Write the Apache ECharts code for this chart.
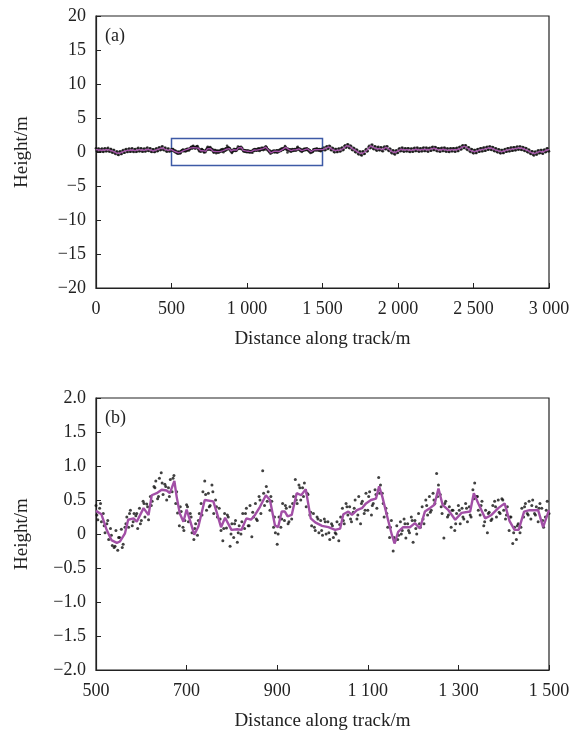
<!DOCTYPE html>
<html>
<head>
<meta charset="utf-8">
<script src="https://cdn.jsdelivr.net/npm/echarts@6/dist/echarts.min.js"></script>
<style>html,body{margin:0;padding:0;background:#fff;}#c{width:574px;height:741px;}</style>
</head>
<body>
<div id="c"></div>
<script>
// Panel (a) x ticks / panel (b) x ticks
const xTicksA = [0, 500, 1000, 1500, 2000, 2500, 3000];
const xTicksB = [500, 700, 900, 1100, 1300, 1500];

// Panel (a) fitted profile, left part: x = 0..480 step 20 m
const lineALeftY = [0.35,0.30,0.25,0.30,0.35,0.20,0.05,-0.20,-0.15,0.05,0.20,0.25,0.30,0.20,0.35,0.30,0.25,0.40,0.30,0.15,0.30,0.45,0.60,0.35,0.25];
// Panel (a) fitted profile, right part: x = 1520..3000 step 20 m
const lineARightY = [0.50,0.75,0.45,0.20,0.25,0.30,0.55,0.95,0.80,0.45,0.20,-0.10,-0.25,0.00,0.40,0.90,0.65,0.45,0.50,0.35,0.70,0.40,0.05,-0.10,0.15,0.40,0.30,0.35,0.25,0.30,0.40,0.30,0.35,0.40,0.30,0.45,0.55,0.35,0.30,0.40,0.30,0.25,0.35,0.30,0.40,0.65,0.85,0.55,0.25,0.05,0.10,0.30,0.35,0.45,0.60,0.55,0.35,0.20,0.05,0.10,0.30,0.35,0.45,0.50,0.60,0.55,0.40,0.20,-0.05,-0.25,-0.10,0.10,0.00,0.25,0.35];

// Panel (b) fitted profile vertices (distance m, height m)
const lineBX = [500,512,523,534,546,553,564,571,583,590,605,616,623,634,645,656,663,673,678,685,693,700,707,717,726,740,759,766,776,785,799,812,821,832,842,851,862,875,884,895,902,910,917,923,932,943,953,963,974,984,999,1013,1028,1039,1046,1057,1065,1076,1087,1096,1107,1118,1125,1132,1142,1153,1159,1167,1178,1193,1204,1215,1226,1237,1247,1256,1265,1278,1293,1307,1326,1334,1344,1359,1373,1388,1402,1413,1424,1433,1445,1457,1476,1487,1500];
const lineBY = [0.34,0.29,0.07,-0.09,-0.13,-0.11,0.01,0.21,0.23,0.18,0.38,0.28,0.57,0.60,0.65,0.64,0.60,0.78,0.55,0.30,0.18,0.36,0.21,-0.01,0.11,0.50,0.48,0.33,0.10,0.24,0.06,0.07,0.06,0.23,0.21,0.28,0.40,0.57,0.50,0.13,0.10,0.33,0.33,0.26,0.28,0.60,0.57,0.66,0.23,0.17,0.12,0.10,0.06,0.08,0.29,0.33,0.28,0.35,0.38,0.45,0.50,0.52,0.70,0.55,0.28,-0.01,-0.14,0.03,0.10,0.10,0.16,0.08,0.33,0.38,0.43,0.67,0.43,0.35,0.21,0.31,0.33,0.60,0.45,0.23,0.28,0.38,0.45,0.19,0.06,0.06,0.33,0.35,0.35,0.10,0.35];

// Laser points, panel (b) range, first pass: x = 500 + 4*i m
const dotsBY = [
0.42,0.21,0.38,0.18,0.30,0.02,0.15,-0.08,0.08,-0.17,
-0.20,0.05,-0.24,-0.05,0.07,-0.15,0.10,0.25,0.10,0.35,
0.12,0.30,0.27,0.08,0.38,0.20,0.48,0.25,0.44,0.21,
0.55,0.48,0.70,0.78,0.52,0.82,0.90,0.58,0.73,0.50,
0.68,0.80,0.62,0.86,0.45,0.31,0.12,0.33,0.10,0.20,
0.43,0.18,0.30,0.02,-0.08,0.15,-0.02,0.30,0.45,0.62,
0.78,0.35,0.60,0.42,0.72,0.30,0.50,0.25,0.38,0.05,
-0.10,0.30,0.09,0.25,-0.18,0.15,-0.05,0.20,-0.12,0.12,
0.00,0.30,0.08,0.38,0.12,0.42,-0.04,0.25,0.45,0.20,
0.55,0.30,0.93,0.42,0.70,0.62,0.35,0.48,0.10,0.02,
-0.15,0.25,0.10,0.45,0.20,0.38,0.15,0.40,0.22,0.55,
0.80,0.45,0.72,0.50,0.68,0.75,0.40,0.58,0.28,0.12,
0.30,0.05,0.25,0.02,0.20,-0.02,0.22,0.00,0.18,-0.08,
0.15,-0.05,0.02,0.18,-0.10,0.25,0.38,0.15,0.45,0.28,
0.40,0.18,0.32,0.50,0.22,0.55,0.15,0.48,0.30,0.60,
0.35,0.62,0.28,0.45,0.65,0.38,0.83,0.72,0.60,0.25,
0.38,0.10,-0.05,0.20,-0.25,-0.10,0.12,-0.02,0.18,0.05,
0.22,-0.06,0.15,0.02,0.25,-0.12,0.20,0.00,0.30,0.10,
0.40,0.15,0.50,0.28,0.55,0.35,0.60,0.45,0.89,0.72,
0.58,0.30,-0.06,0.48,0.25,0.40,0.10,0.35,0.05,0.30,
0.42,0.15,0.38,0.22,0.45,0.18,0.40,0.25,0.65,0.75,
0.55,0.35,0.28,0.48,0.12,0.35,0.02,0.32,0.20,0.42,
0.48,0.25,0.50,0.30,0.52,0.35,0.22,0.40,0.05,0.25,
-0.14,0.10,-0.08,0.15,0.02,0.38,0.25,0.45,0.30,0.48,
0.22,0.50,0.30,0.40,0.18,0.45,0.38,0.10,0.25,0.48,
0.30];
// Laser points, panel (b) range, second pass: x = 502 + 8*i m
const dotsB2Y = [
0.28,0.45,0.12,0.20,-0.02,-0.18,-0.05,-0.20,0.15,0.30,
0.18,0.30,0.15,0.45,0.40,0.42,0.68,0.55,0.75,0.70,
0.55,0.82,0.62,0.40,0.05,0.40,0.25,0.08,0.20,0.28,
0.58,0.40,0.62,0.40,0.22,0.08,0.28,0.00,0.15,0.02,
0.18,0.30,0.12,0.32,0.22,0.50,0.60,0.48,0.55,0.25,
0.00,0.22,0.42,0.18,0.45,0.50,0.68,0.55,0.60,0.32,
0.10,0.22,0.05,0.18,0.02,0.12,0.00,0.14,0.20,0.40,
0.22,0.38,0.28,0.45,0.35,0.55,0.42,0.58,0.60,0.45,
0.30,0.10,-0.05,-0.08,0.00,0.15,0.05,0.20,0.08,0.15,
0.22,0.42,0.32,0.50,0.55,0.40,0.45,0.28,0.35,0.15,
0.35,0.25,0.38,0.28,0.52,0.55,0.42,0.18,0.30,0.22,
0.40,0.32,0.50,0.28,0.25,0.02,0.12,0.10,0.40,0.28,
0.42,0.28,0.38,0.20,0.35];

// Laser points, panel (a) outside the zoom window
// first pass: x = 10*i and x = 1510 + 10*i m
const dotsALeftY = [0.55,0.10,0.48,0.05,0.50,0.02,0.55,0.12,0.60,0.05,0.45,-0.10,0.30,-0.30,0.05,-0.45,0.10,-0.30,0.30,-0.10,0.45,0.00,0.50,0.05,0.55,0.00,0.45,0.05,0.60,0.10,0.55,0.05,0.50,0.10,0.65,0.15,0.55,0.00,0.40,0.00,0.55,0.15,0.70,0.30,0.85,0.25,0.60,0.05,0.50,0.10];
const dotsARightY = [
0.65,0.30,0.85,0.55,0.85,0.25,0.55,-0.05,0.45,0.00,
0.50,0.10,0.65,0.35,1.00,0.75,1.10,0.55,0.85,0.25,
0.55,-0.05,0.30,-0.35,0.05,-0.50,0.10,-0.25,0.45,0.15,
0.90,0.65,1.05,0.40,0.80,0.20,0.75,0.25,0.65,0.10,
0.80,0.45,0.80,0.15,0.45,-0.20,0.20,-0.35,0.25,-0.10,
0.55,0.15,0.60,0.05,0.55,0.10,0.55,0.00,0.50,0.05,
0.60,0.15,0.60,0.05,0.55,0.10,0.65,0.15,0.60,0.05,
0.60,0.20,0.75,0.30,0.70,0.10,0.55,0.05,0.60,0.15,
0.60,0.05,0.50,0.00,0.55,0.10,0.55,0.05,0.60,0.15,
0.75,0.40,1.00,0.60,0.95,0.30,0.65,0.00,0.40,-0.20,
0.30,-0.15,0.45,0.05,0.55,0.10,0.65,0.20,0.75,0.35,
0.80,0.30,0.70,0.10,0.50,-0.05,0.35,-0.20,0.30,-0.15,
0.45,0.05,0.55,0.10,0.65,0.20,0.70,0.25,0.80,0.35,
0.80,0.30,0.70,0.15,0.55,-0.05,0.30,-0.30,0.10,-0.50,
0.05,-0.35,0.25,-0.15,0.30,-0.25,0.35,0.00,0.55,0.10];
// second pass: x = 5 + 10*i and x = 1515 + 10*i m
const dotsALeft2Y = [0.15,0.50,0.10,0.45,0.05,0.48,0.12,0.52,0.10,0.42,-0.02,0.30,-0.20,0.05,-0.40,0.02,-0.30,0.18,-0.10,0.35,0.02,0.45,0.05,0.48,0.08,0.40,0.02,0.52,0.12,0.50,0.08,0.45,0.08,0.55,0.18,0.52,0.05,0.38,0.00,0.45,0.12,0.60,0.28,0.75,0.35,0.60,0.12,0.48,0.08];
const dotsARight2Y = [
0.25,0.78,0.45,0.90,0.30,0.60,0.05,0.42,0.00,0.48,
0.08,0.58,0.25,0.88,0.62,1.12,0.62,0.95,0.32,0.60,
0.05,0.35,-0.25,0.08,-0.45,0.05,-0.28,0.32,0.08,0.75,
0.55,1.05,0.50,0.82,0.28,0.68,0.28,0.68,0.15,0.66,
0.40,0.85,0.25,0.52,-0.08,0.25,-0.28,0.18,-0.15,0.45,
0.12,0.60,0.10,0.52,0.12,0.55,0.05,0.48,0.06,0.55,
0.15,0.60,0.10,0.52,0.12,0.58,0.16,0.60,0.10,0.55,
0.20,0.70,0.30,0.72,0.18,0.56,0.08,0.55,0.15,0.60,
0.10,0.50,0.04,0.50,0.10,0.56,0.08,0.55,0.16,0.68,
0.36,0.92,0.58,1.00,0.40,0.70,0.10,0.42,-0.12,0.28,
-0.13,0.38,0.03,0.53,0.12,0.60,0.20,0.70,0.34,0.81,
0.34,0.72,0.18,0.53,0.02,0.38,-0.14,0.28,-0.13,0.37,
0.03,0.53,0.12,0.60,0.20,0.68,0.27,0.74,0.36,0.81,
0.34,0.74,0.22,0.57,0.03,0.36,-0.20,0.12,-0.42,0.00,
-0.36,0.17,-0.17,0.30,-0.20,0.28,-0.04,0.50,0.10];

const lineB = lineBX.map((x, i) => [x, lineBY[i]]);
const lineA = lineALeftY.map((y, i) => [i * 20, y])
  .concat(lineB)
  .concat(lineARightY.map((y, i) => [1520 + i * 20, y]));
const dotsB = dotsBY.map((y, i) => [500 + 4 * i, y])
  .concat(dotsB2Y.map((y, i) => [502 + 8 * i, y]));
const dotsA = dotsALeftY.map((y, i) => [i * 10, y])
  .concat(dotsALeft2Y.map((y, i) => [5 + i * 10, y]))
  .concat(dotsB)
  .concat(dotsARightY.map((y, i) => [1510 + i * 10, y]))
  .concat(dotsARight2Y.map((y, i) => [1515 + i * 10, y]));

const FONT = 'Liberation Serif';
const TXT = '#222';
const purple = '#a24fa6';
const fmtThousands = v => {
  const s = v < 0 ? '\u2212' : '';
  const a = Math.abs(v);
  if (a >= 1000) return s + Math.floor(a / 1000) + ' ' + String(a % 1000).padStart(3, '0');
  return s + a;
};
const fmtB = v => v === 0 ? '0' : (v < 0 ? '\u2212' : '') + Math.abs(v).toFixed(1);

function xAx(gi, min, max, interval) {
  return {
    type: 'value', gridIndex: gi, min, max, interval,
    name: 'Distance along track/m', nameLocation: 'middle', nameGap: 42,
    nameTextStyle: { fontFamily: FONT, fontSize: 19, color: TXT },
    axisLine: { onZero: false, lineStyle: { color: '#222', width: 1.2 } },
    axisTick: { inside: true, length: 5, lineStyle: { color: '#222' } },
    axisLabel: { fontFamily: FONT, fontSize: 18, color: TXT, margin: 12, formatter: fmtThousands },
    splitLine: { show: false }
  };
}
function yAx(gi, min, max, interval, fmt) {
  return {
    type: 'value', gridIndex: gi, min, max, interval,
    name: 'Height/m', nameLocation: 'middle', nameGap: 64,
    nameTextStyle: { fontFamily: FONT, fontSize: 19, color: TXT },
    axisLine: { onZero: false, lineStyle: { color: '#222', width: 1.2 } },
    axisTick: { inside: true, length: 5, lineStyle: { color: '#222' } },
    axisLabel: { fontFamily: FONT, fontSize: 18, color: TXT, margin: 10, formatter: fmt },
    splitLine: { show: false }
  };
}

const chart = echarts.init(document.getElementById('c'), null, { renderer: 'canvas' });
chart.setOption({
  animation: false,
  backgroundColor: '#fff',
  title: [
    { text: '(a)', left: 100, top: 22, textStyle: { fontFamily: FONT, fontSize: 18, fontWeight: 'normal', color: TXT } },
    { text: '(b)', left: 100, top: 404, textStyle: { fontFamily: FONT, fontSize: 18, fontWeight: 'normal', color: TXT } }
  ],
  grid: [
    { left: 96, top: 16, width: 453, height: 272, show: true, borderColor: '#222', borderWidth: 1.2, backgroundColor: 'transparent' },
    { left: 96, top: 398, width: 453, height: 272, show: true, borderColor: '#222', borderWidth: 1.2, backgroundColor: 'transparent' }
  ],
  xAxis: [xAx(0, 0, 3000, 500), xAx(1, 500, 1500, 200)],
  yAxis: [yAx(0, -20, 20, 5, fmtThousands), yAx(1, -2, 2, 0.5, fmtB)],
  series: [
    { type: 'scatter', xAxisIndex: 0, yAxisIndex: 0, data: dotsA, symbolSize: 2.6, itemStyle: { color: '#111' }, silent: true },
    { type: 'line', xAxisIndex: 0, yAxisIndex: 0, data: lineA, showSymbol: false, lineStyle: { color: purple, width: 1.4 }, silent: true,
      markArea: { silent: true, label: { show: false },
        itemStyle: { color: 'rgba(0,0,0,0)', borderColor: '#3d5aa6', borderWidth: 1.5 },
        data: [[{ xAxis: 500, yAxis: -2 }, { xAxis: 1500, yAxis: 2 }]] } },
    { type: 'scatter', xAxisIndex: 1, yAxisIndex: 1, data: dotsB, symbolSize: 3, itemStyle: { color: '#111' }, silent: true },
    { type: 'line', xAxisIndex: 1, yAxisIndex: 1, data: lineB, showSymbol: false, lineStyle: { color: purple, width: 2.4 }, silent: true }
  ]
});
</script>
</body>
</html>
